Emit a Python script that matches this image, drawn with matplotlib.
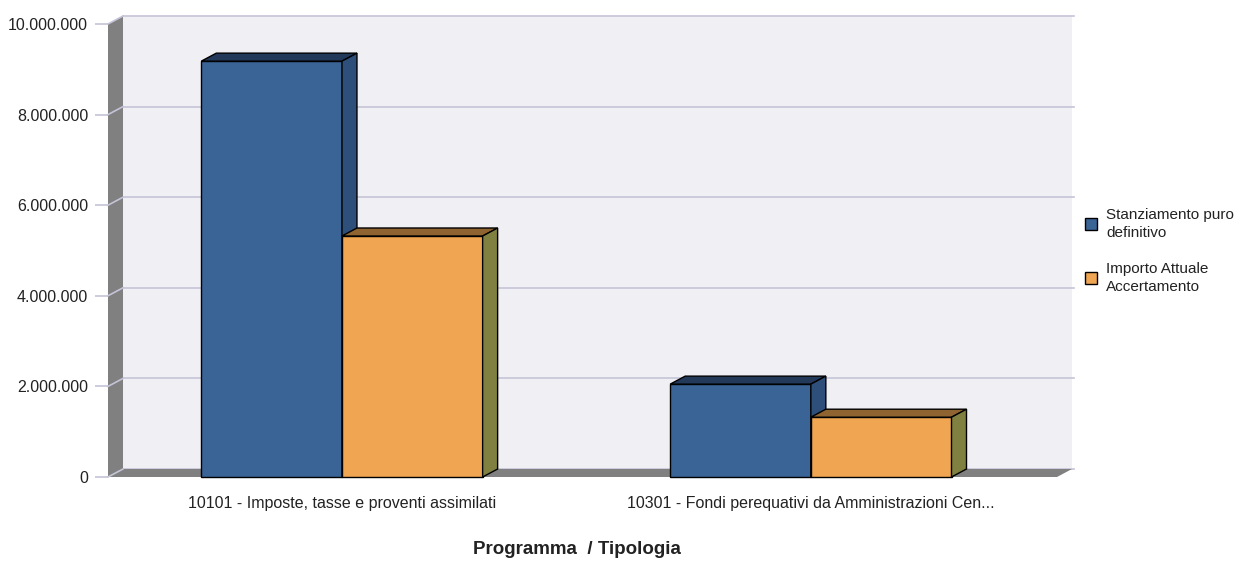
import numpy as np
import matplotlib
matplotlib.use("Agg")
import matplotlib.pyplot as plt
from matplotlib.patches import Polygon, Rectangle

plt.rcParams['font.family'] = ['Liberation Sans', 'DejaVu Sans']

categories = ["10101 - Imposte, tasse e proventi assimilati",
              "10301 - Fondi perequativi da Amministrazioni Cen..."]
series_names = ["Stanziamento puro\ndefinitivo", "Importo Attuale\nAccertamento"]
stanziamento = [9180000, 2050000]
accertamento = [5320000, 1320000]
yticks = [0, 2000000, 4000000, 6000000, 8000000, 10000000]
ytick_labels = ["0", "2.000.000", "4.000.000", "6.000.000", "8.000.000", "10.000.000"]

front_cols = ["#3a6496", "#f0a552"]
top_cols = ["#22395a", "#8f6430"]
side_cols = ["#2e4f7a", "#808040"]
grid_col = "#c4c4d8"

W, H = 1249, 561
fig = plt.figure(figsize=(W / 100, H / 100), dpi=100)
ax = fig.add_axes([108 / W, 1 - 477 / H, 949 / W, 453 / H])
ax.set_xlim(-0.499, 1.525)
ax.set_ylim(0, 10000000)
ax.patch.set_visible(False)
for s in ax.spines.values():
    s.set_visible(False)

# depth of the 3d effect, in data units (15 px right, 8 px up)
p0 = ax.transData.transform((0, 0))
ddx, ddy = ax.transData.inverted().transform(p0 + np.array([15, 8]))
x0, x1 = ax.get_xlim()
y1 = ax.get_ylim()[1]

# back wall, left wall, floor
ax.add_patch(Rectangle((x0 + ddx, ddy), x1 - x0, y1, facecolor="#efeff4",
                       edgecolor="none", clip_on=False, zorder=0))
ax.add_patch(Polygon([(x0, 0), (x0 + ddx, ddy), (x0 + ddx, y1 + ddy), (x0, y1)],
                     facecolor="#808080", edgecolor="none", clip_on=False, zorder=1))
ax.add_patch(Polygon([(x0, 0), (x1, 0), (x1 + ddx, ddy), (x0 + ddx, ddy)],
                     facecolor="#808080", edgecolor="none", clip_on=False, zorder=1))

# gridlines on back wall + diagonal ticks
for v in yticks:
    ax.plot([x0 + ddx, x1 + ddx + 0.004], [v + ddy, v + ddy], color=grid_col, lw=1.2,
            clip_on=False, zorder=0.5)
    ax.plot([x0, x0 + ddx], [v, v + ddy], color=grid_col, lw=1.2, clip_on=False, zorder=2)

ax.set_yticks(yticks, ytick_labels)
ax.tick_params(axis='y', length=9.4, color=grid_col, width=1.2, pad=5,
               labelsize=11.5, labelcolor="#222222")
ax.set_xticks([0, 1], categories)
ax.tick_params(axis='x', length=0, pad=13.5, labelsize=11.5, labelcolor="#222222")

# 3d bars
w = 0.3
x = np.arange(len(categories))
for k, vals in enumerate([stanziamento, accertamento]):
    xs = x - w / 2 + k * w
    bars = ax.bar(xs, vals, width=w, color=front_cols[k], edgecolor="black",
                  lw=1, zorder=3 + k * 2, clip_on=False)
    for b in bars:
        bx, bh = b.get_x(), b.get_height()
        ax.add_patch(Polygon([(bx, bh), (bx + w, bh), (bx + w + ddx, bh + ddy), (bx + ddx, bh + ddy)],
                             facecolor=top_cols[k], edgecolor="black", lw=1,
                             clip_on=False, zorder=3 + k * 2))
        ax.add_patch(Polygon([(bx + w, 0), (bx + w + ddx, ddy), (bx + w + ddx, bh + ddy), (bx + w, bh)],
                             facecolor=side_cols[k], edgecolor="black", lw=1,
                             clip_on=False, zorder=3 + k * 2))

fig.text(577 / W, 1 - 549 / H, "Programma  / Tipologia", ha="center", va="center",
         fontsize=13.5, fontweight="bold", color="#222222")

# legend
for k, (name, yc) in enumerate(zip(series_names, [224, 278])):
    fig.patches.append(Rectangle((1085 / W, 1 - (yc + 6) / H), 12 / W, 12 / H,
                                 facecolor=front_cols[k], edgecolor="black", lw=1,
                                 transform=fig.transFigure, figure=fig))
    fig.text(1106 / W, 1 - yc / H, name, ha="left", va="center", fontsize=11,
             color="#222222", linespacing=1.35)

fig.savefig("out.png", dpi=100)
